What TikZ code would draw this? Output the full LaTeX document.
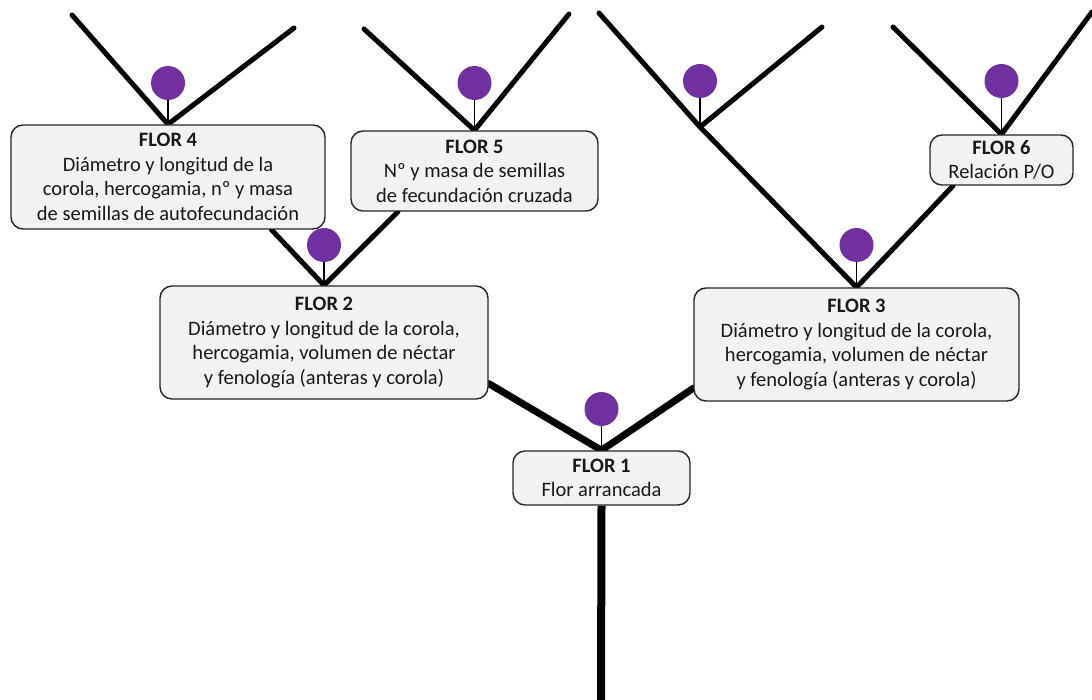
\documentclass[tikz,border=0pt]{standalone}
\usepackage{fontspec}
\setmainfont{Carlito}
\usepackage{tikz}
\usetikzlibrary{backgrounds}
\definecolor{morado}{HTML}{7030A0}
\definecolor{gris}{HTML}{F2F2F2}

\begin{document}
\begin{tikzpicture}[x=1pt, y=-1pt,
    caja/.style={draw=black!85, line width=1.4pt, fill=gris, rounded corners=12pt,
      align=center, inner sep=0pt, text=black!90, font=\fontsize{20.5}{24.5}\selectfont},
    bola/.style={circle, fill=morado, minimum size=34pt, inner sep=0pt},
    rama/.style={line width=5pt, line cap=round},
    tallo/.style={line width=1.3pt}]
    \useasboundingbox (0,0) rectangle (1092,700);

    % cajas de las flores
    \node[caja, minimum width=177pt, minimum height=54pt] (f1) at (601.5,478)
      {\textbf{FLOR 1}\\Flor arrancada};
    \node[caja, minimum width=328pt, minimum height=113pt] (f2) at (324,342.5)
      {\textbf{FLOR 2}\\Diámetro y longitud de la corola,\\hercogamia, volumen de néctar\\y fenología (anteras y corola)};
    \node[caja, minimum width=325pt, minimum height=113pt] (f3) at (856.5,344.5)
      {\textbf{FLOR 3}\\Diámetro y longitud de la corola,\\hercogamia, volumen de néctar\\y fenología (anteras y corola)};
    \node[caja, minimum width=314pt, minimum height=104pt] (f4) at (168,177)
      {\textbf{FLOR 4}\\Diámetro y longitud de la\\corola, hercogamia, nº y masa\\de semillas de autofecundación};
    \node[caja, minimum width=247pt, minimum height=80pt] (f5) at (474.5,171)
      {\textbf{FLOR 5}\\Nº y masa de semillas\\de fecundación cruzada};
    \node[caja, minimum width=143pt, minimum height=50pt] (f6) at (1001.5,160)
      {\textbf{FLOR 6}\\Relación P/O};

    % puntas de las ramas
    \coordinate (raiz) at (601,700);
    \coordinate (j7) at (700,127);
    \coordinate (p7) at (599,13);
    \coordinate (q7) at (822,27);
    \coordinate (p4) at (72,15);
    \coordinate (q4) at (294,28);
    \coordinate (p5) at (364,29);
    \coordinate (q5) at (569,14);
    \coordinate (p6) at (893,27);
    \coordinate (q6) at (1092,12);

    % flores
    \node[bola] (b1) at (601.5,409) {};
    \node[bola] (b2) at (324,245) {};
    \node[bola] (b3) at (856.5,245) {};
    \node[bola] (b4) at (168,83) {};
    \node[bola] (b5) at (474.5,83) {};
    \node[bola] (b6) at (1001.5,81) {};
    \node[bola] (b7) at (700,81) {};
    \draw[tallo] (b1.south) -- (f1.north);
    \draw[tallo] (b2.south) -- (f2.north);
    \draw[tallo] (b3.south) -- (f3.north);
    \draw[tallo] (b4.south) -- (f4.north);
    \draw[tallo] (b5.south) -- (f5.north);
    \draw[tallo] (b6.south) -- (f6.north);
    \draw[tallo] (b7.south) -- (j7);

    \begin{scope}[on background layer]
    \draw[rama, line width=8pt, line cap=butt] (f1.south) -- (raiz);
    \draw[rama, line width=7pt] (f1.north) -- (f2.-14);
    \draw[rama, line width=7pt] (f1.north) -- (f3.195);
    \draw[rama] (f2.north) -- (f4.-27);
    \draw[rama] (f2.north) -- (f5.208);
    \draw[rama] (f3.north) -- (f6.208);
    \draw[rama] (f3.north) -- (j7) -- (p7);
    \draw[rama] (j7) -- (q7);
    \draw[rama] (f4.north) -- (p4);
    \draw[rama] (f4.north) -- (q4);
    \draw[rama] (f5.north) -- (p5);
    \draw[rama] (f5.north) -- (q5);
    \draw[rama] (f6.north) -- (p6);
    \draw[rama] (f6.north) -- (q6);
    \end{scope}
\end{tikzpicture}
\end{document}
